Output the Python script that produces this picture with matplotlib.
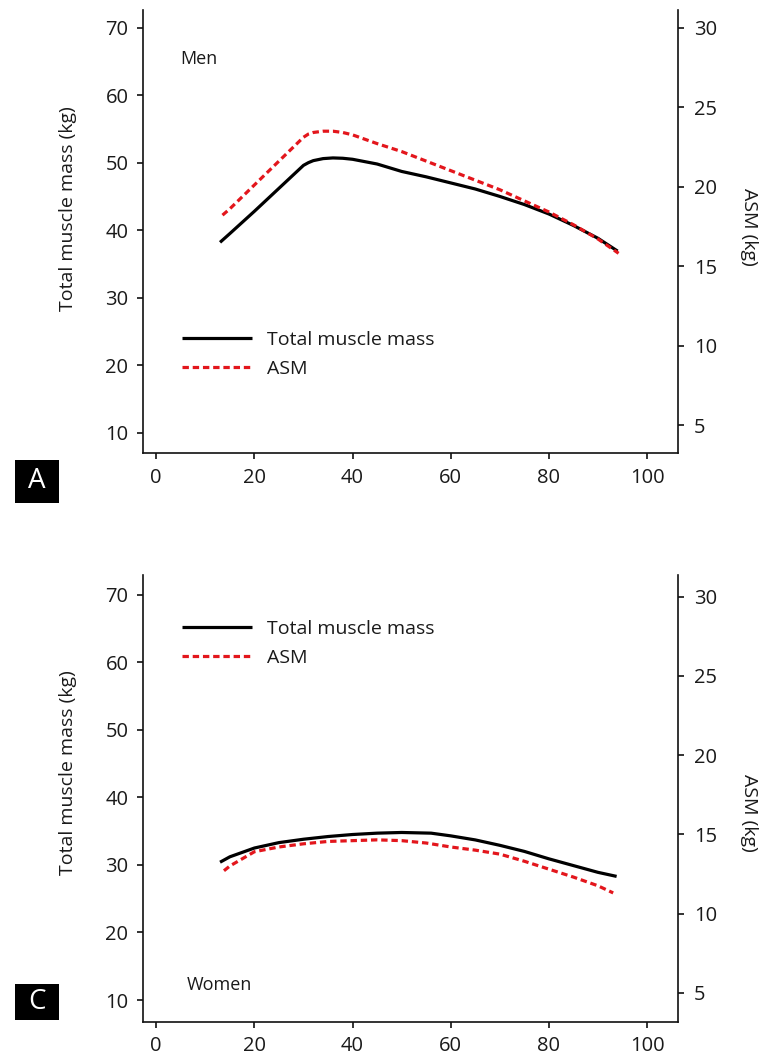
import matplotlib
matplotlib.use("Agg")
import matplotlib.pyplot as plt
from matplotlib.patches import Rectangle

plt.rcParams['font.family'] = ['Open Sans', 'DejaVu Sans']

# ---- Data ----
men_age_total = [13, 15, 20, 25, 30, 31, 32, 34, 36, 38, 40, 45, 50, 55, 60, 65, 70, 75, 80, 85, 90, 94]
men_total = [38.2, 39.5, 42.8, 46.2, 49.6, 50.0, 50.3, 50.6, 50.7, 50.65, 50.5, 49.8, 48.7, 47.9, 47.0, 46.1, 45.0, 43.8, 42.4, 40.7, 38.8, 36.9]
men_age_asm = [13.5, 15, 20, 25, 30, 31, 32, 34, 36, 38, 40, 45, 50, 55, 60, 65, 70, 75, 80, 85, 90, 94.2]
men_asm = [18.2, 18.6, 20.1, 21.6, 23.1, 23.3, 23.4, 23.48, 23.48, 23.4, 23.25, 22.7, 22.2, 21.6, 21.0, 20.4, 19.8, 19.1, 18.4, 17.6, 16.7, 15.8]

women_age_total = [13, 15, 20, 25, 30, 35, 40, 45, 50, 56, 60, 65, 70, 75, 80, 85, 90, 93.8]
women_total = [30.4, 31.2, 32.5, 33.3, 33.8, 34.2, 34.5, 34.7, 34.8, 34.7, 34.3, 33.7, 32.9, 32.0, 30.9, 29.9, 28.9, 28.3]
women_age_asm = [13.8, 15, 20, 25, 30, 35, 40, 45, 50, 55, 60, 65, 70, 75, 80, 85, 90, 93.1]
women_asm = [12.7, 13.0, 13.9, 14.2, 14.4, 14.55, 14.6, 14.65, 14.6, 14.45, 14.2, 14.0, 13.75, 13.3, 12.8, 12.3, 11.75, 11.3]

x_ticks = [0, 20, 40, 60, 80, 100]
left_ticks = [10, 20, 30, 40, 50, 60, 70]
right_ticks = [5, 10, 15, 20, 25, 30]
series_labels = ["Total muscle mass", "ASM"]

RED = '#e3161c'
FS = 14
TXT = '#1a1a1a'

fig = plt.figure(figsize=(7.75, 10.57), dpi=100)


def make_panel(rect, age_t, total, age_a, asm, ylim_l, ylim_r, sex_label, sex_xy,
               legend_anchor, letter, letter_box, lab_l_y, lab_r_y):
    ax = fig.add_axes(rect)
    ax2 = ax.twinx()
    l1, = ax.plot(age_t, total, color='black', lw=2.3, solid_capstyle='butt', solid_joinstyle='round')
    l2, = ax2.plot(age_a, asm, color=RED, lw=2.3, dashes=(2.0, 1.2))
    ax.set_xlim(-2.7, 106.3)
    ax.set_ylim(*ylim_l)
    ax2.set_ylim(*ylim_r)
    ax.set_xticks(x_ticks)
    ax.set_yticks(left_ticks)
    ax2.set_yticks(right_ticks)
    for a in (ax, ax2):
        a.spines['top'].set_visible(False)
        for s in a.spines.values():
            s.set_linewidth(1.2)
            s.set_color('#111111')
        a.tick_params(length=4.5, width=1.2, labelsize=FS + 0.5, color='#111111', labelcolor=TXT)
    ax.spines['right'].set_visible(False)
    ax2.spines['left'].set_visible(False)
    ax2.spines['bottom'].set_visible(False)
    ax.tick_params(axis='y', pad=6)
    ax.tick_params(axis='x', pad=6)
    ax2.tick_params(axis='y', pad=7)
    ax.set_ylabel("Total muscle mass (kg)", fontsize=FS, color=TXT)
    ax.yaxis.set_label_coords(-0.123, lab_l_y)
    ax2.set_ylabel("ASM (kg)", fontsize=FS, color=TXT, rotation=270, va='center')
    ax2.yaxis.set_label_coords(1.133, lab_r_y)
    ax.text(sex_xy[0], sex_xy[1], sex_label, fontsize=FS - 1, color=TXT, va='center', ha='left')
    ax2.legend([l1, l2], series_labels, loc='upper left', bbox_to_anchor=legend_anchor,
               frameon=False, fontsize=FS, handlelength=3.6, handletextpad=0.75,
               labelspacing=0.55, borderpad=0, borderaxespad=0, labelcolor=TXT)
    x0, y0, w, h = letter_box
    fig.patches.append(Rectangle((x0, y0), w, h, transform=fig.transFigure,
                                 facecolor='black', edgecolor='none'))
    fig.text(x0 + w / 2, y0 + h / 2, letter, color='white', fontsize=20,
             ha='center', va='center')
    return ax, ax2


make_panel([0.1845, 0.5714, 0.6903, 0.4191], men_age_total, men_total, men_age_asm, men_asm,
           (7.0, 72.6), (3.24, 31.1), "Men", (4.9, 65.4), (0.073, 0.275), "A",
           (15 / 775, 1 - 503 / 1057, 44 / 775, 43 / 1057), 0.551, 0.51)
make_panel([0.1845, 0.0334, 0.6903, 0.4226], women_age_total, women_total, women_age_asm, women_asm,
           (6.8, 72.9), (3.17, 31.37), "Women", (6.3, 12.2), (0.073, 0.899), "C",
           (15 / 775, 1 - 1020 / 1057, 44 / 775, 36 / 1057), 0.558, 0.467)

fig.savefig("out.png", dpi=100)
